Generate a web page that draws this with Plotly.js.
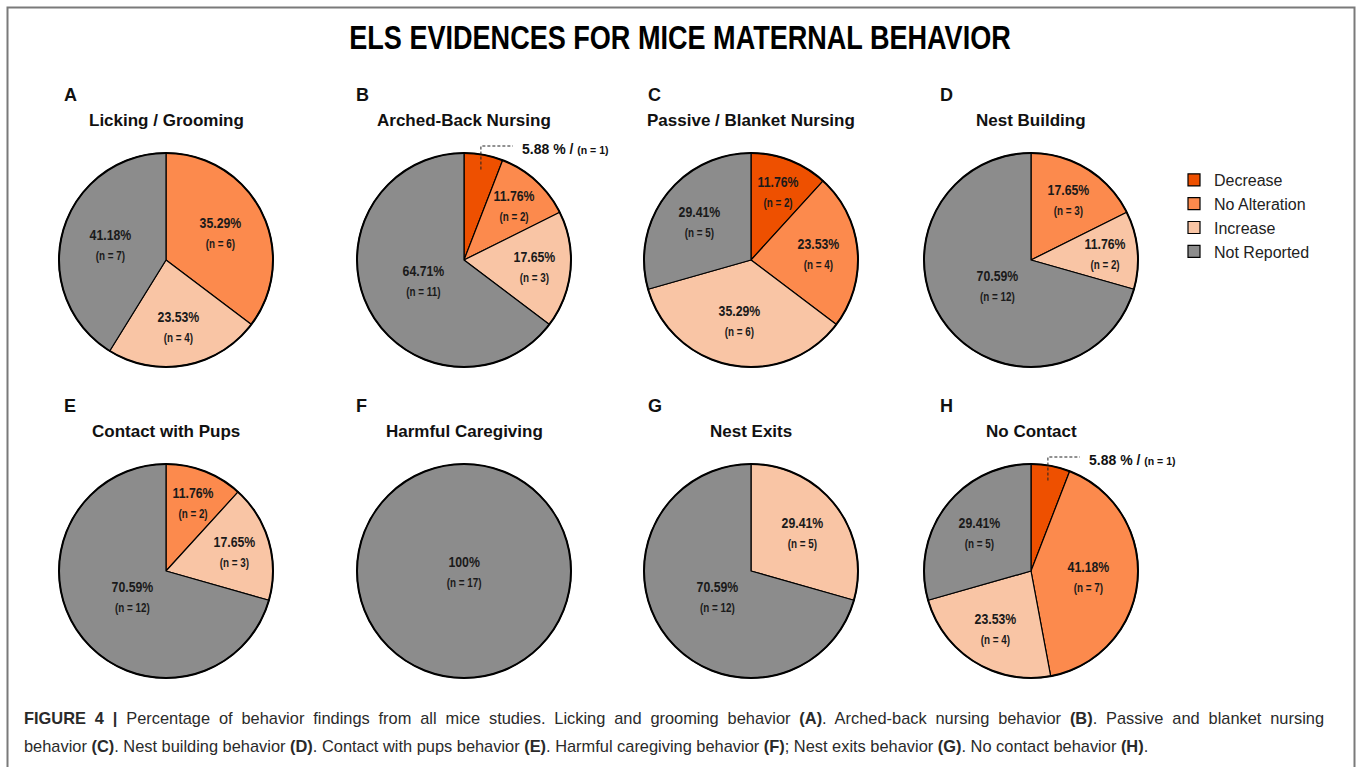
<!DOCTYPE html>
<html><head><meta charset="utf-8">
<script src="https://cdn.plot.ly/plotly-3.0.1.min.js"></script>
<style>html,body{margin:0;padding:0;background:#fff}#chart{width:1360px;height:767px}</style>
</head><body><div id="chart"></div>
<script>
// ---------- data ----------
const categories = ["Decrease", "No Alteration", "Increase", "Not Reported"];
const panelLetters = ["A", "B", "C", "D", "E", "F", "G", "H"];
const panelTitles = ["Licking / Grooming", "Arched-Back Nursing", "Passive / Blanket Nursing", "Nest Building",
                     "Contact with Pups", "Harmful Caregiving", "Nest Exits", "No Contact"];
const countsA = [0, 6, 4, 7];
const countsB = [1, 2, 3, 11];
const countsC = [2, 4, 6, 5];
const countsD = [0, 3, 2, 12];
const countsE = [0, 2, 3, 12];
const countsF = [0, 0, 0, 17];
const countsG = [0, 0, 5, 12];
const countsH = [1, 7, 4, 5];
const figureTitle = "ELS EVIDENCES FOR MICE MATERNAL BEHAVIOR";
const captionLine1 = "<b>FIGURE 4 |</b> Percentage of behavior findings from all mice studies. Licking and grooming behavior <b>(A)</b>. Arched-back nursing behavior <b>(B)</b>. Passive and blanket nursing";
const captionLine2 = "behavior <b>(C)</b>. Nest building behavior <b>(D)</b>. Contact with pups behavior <b>(E)</b>. Harmful caregiving behavior <b>(F)</b>; Nest exits behavior <b>(G)</b>. No contact behavior <b>(H)</b>.";

// ---------- style / geometry ----------
const colors = ["#EE5000", "#FC8A4D", "#F9C5A5", "#8C8C8C"];
const W = 1360, H = 767;
const colX = [166, 464, 751, 1031];
const rowY = [260, 571];
const R = 107;
const SANS = "'Liberation Sans', Arial, sans-serif";
const NARROW_K = 0.82;          // horizontal condensing factor (Arial Narrow look)
const CAPTION_JUSTIFY_W = 1300; // justified width of first caption line

const allCounts = [countsA, countsB, countsC, countsD, countsE, countsF, countsG, countsH];
const px = x => x / W;
const py = y => 1 - y / H;

function fmtPct(v) {
  return Math.abs(v - Math.round(v)) < 1e-9 ? String(Math.round(v)) : v.toFixed(2);
}

const traces = [];
const annotations = [];
const shapes = [];
const narrowIdx = [];

// border
shapes.push({type: "rect", xref: "paper", yref: "paper", x0: px(7.5), x1: px(1354.5), y0: py(820), y1: py(7.5),
  line: {color: "#7a7a7a", width: 2}, fillcolor: "rgba(0,0,0,0)", layer: "above"});

// legend order: put a panel with all four categories first
const order = [1, 0, 2, 3, 4, 5, 6, 7];
order.forEach(i => {
  const counts = allCounts[i];
  const cx = colX[i % 4], cy = rowY[Math.floor(i / 4)];
  const labs = [], vals = [], cols = [];
  counts.forEach((v, k) => { if (v > 0) { labs.push(categories[k]); vals.push(v); cols.push(colors[k]); } });
  traces.push({
    type: "pie", labels: labs, values: vals, sort: false, direction: "clockwise", rotation: 0,
    marker: {colors: cols, line: {color: "#000", width: 1.2}},
    textinfo: "none", hoverinfo: "label+value+percent",
    domain: {x: [px(cx - R), px(cx + R)], y: [py(cy + R), py(cy - R)]},
    showlegend: true, name: panelTitles[i]
  });
});

allCounts.forEach((counts, i) => {
  const cx = colX[i % 4], cy = rowY[Math.floor(i / 4)];
  const total = counts.reduce((a, b) => a + b, 0);
  shapes.push({type: "circle", xref: "paper", yref: "paper", x0: px(cx - R), x1: px(cx + R), y0: py(cy + R), y1: py(cy - R),
    line: {color: "#000", width: 2}, fillcolor: "rgba(0,0,0,0)", layer: "above"});
  annotations.push({text: "<b>" + panelLetters[i] + "</b>", x: px(62 + 292 * (i % 4)), y: py(cy - 165), xref: "paper", yref: "paper",
    xanchor: "left", yanchor: "middle", showarrow: false, font: {family: SANS, size: 18, color: "#111"}});
  annotations.push({text: "<b>" + panelTitles[i] + "</b>", x: px(cx), y: py(cy - 140), xref: "paper", yref: "paper",
    xanchor: "center", yanchor: "middle", showarrow: false, font: {family: SANS, size: 17, color: "#111"}});
  let cum = 0;
  counts.forEach((v, k) => {
    if (v <= 0) return;
    const share = v / total;
    const mid = (cum + v / 2) / total * 2 * Math.PI;
    cum += v;
    const pct = fmtPct(share * 100);
    if (share < 0.08) {
      const sx = cx + 0.86 * R * Math.sin(mid), sy = cy - 0.86 * R * Math.cos(mid);
      const topY = cy - R - 7;
      const ex = sx + 32;
      shapes.push({type: "path", xref: "paper", yref: "paper",
        path: `M${px(sx)},${py(sy)} L${px(sx)},${py(topY)} L${px(ex)},${py(topY)}`,
        line: {color: "#222", width: 1, dash: "3px,2px"}, layer: "above"});
      annotations.push({text: `<b>${pct} % / </b><b><span style="font-size:10.5px">(n = ${v})</span></b>`,
        x: px(ex + 7), y: py(topY + 3), xref: "paper", yref: "paper", xanchor: "left", yanchor: "middle",
        showarrow: false, font: {family: SANS, size: 14, color: "#111"}});
    } else {
      const f = share >= 0.999 ? 0 : 0.75 - 0.5 * share;
      const lx = cx + f * R * Math.sin(mid), ly = cy - f * R * Math.cos(mid);
      narrowIdx.push(annotations.length);
      annotations.push({text: `<b>${pct}%</b><br><b><span style="font-size:12px">(n = ${v})</span></b>`,
        x: px(lx), y: py(ly), xref: "paper", yref: "paper", xanchor: "center", yanchor: "middle",
        showarrow: false, font: {family: SANS, size: 15, color: "#1a1a1a"}});
    }
  });
});

const cap1Idx = annotations.length;
annotations.push({text: captionLine1, x: px(22), y: py(718), xref: "paper", yref: "paper", xanchor: "left", yanchor: "middle",
  align: "left", showarrow: false, font: {family: SANS, size: 16.4, color: "#2a2a2a"}});
annotations.push({text: captionLine2, x: px(22), y: py(746), xref: "paper", yref: "paper", xanchor: "left", yanchor: "middle",
  align: "left", showarrow: false, font: {family: SANS, size: 16.4, color: "#2a2a2a"}});

const layout = {
  width: W, height: H, autosize: false,
  margin: {l: 0, r: 0, t: 0, b: 0},
  paper_bgcolor: "#fff", plot_bgcolor: "#fff",
  title: {text: "<b>" + figureTitle + "</b>", x: 0.5, xanchor: "center", y: py(37), yanchor: "middle", yref: "paper",
    font: {family: SANS, size: 33, color: "#000"}},
  legend: {x: px(1174), y: py(163), xanchor: "left", yanchor: "top", bgcolor: "rgba(0,0,0,0)",
    font: {family: SANS, size: 16, color: "#222"}, itemwidth: 30, traceorder: "normal"},
  shapes: shapes, annotations: annotations
};

function squeeze(el, k) {
  const w = el.getComputedTextLength();
  if (w > 0) {
    el.setAttribute("textLength", (w * k).toFixed(2));
    el.setAttribute("lengthAdjust", "spacingAndGlyphs");
  }
  return w;
}

Plotly.newPlot("chart", traces, layout, {displayModeBar: false, staticPlot: true}).then(gd => {
  gd.querySelectorAll(".gtitle").forEach(t => squeeze(t, NARROW_K));
  narrowIdx.forEach(idx => {
    const g = gd.querySelector(`.annotation[data-index="${idx}"]`);
    if (!g) return;
    const txt = g.querySelector(".annotation-text");
    if (!txt) return;
    const lines = txt.querySelectorAll("tspan.line");
    if (lines.length) lines.forEach(l => squeeze(l, NARROW_K));
    else squeeze(txt, NARROW_K);
  });
  // justify first caption line
  const cg = gd.querySelector(`.annotation[data-index="${cap1Idx}"]`);
  if (cg) {
    const txt = cg.querySelector(".annotation-text");
    if (txt) {
      const w = txt.getComputedTextLength();
      const nSpaces = (txt.textContent.match(/ /g) || []).length;
      if (w > 0 && nSpaces > 0 && CAPTION_JUSTIFY_W > w) {
        txt.setAttribute("word-spacing", ((CAPTION_JUSTIFY_W - w) / nSpaces).toFixed(3));
      }
    }
  }
});
</script>
</body></html>
